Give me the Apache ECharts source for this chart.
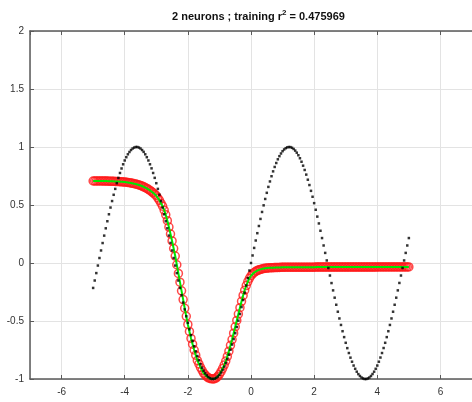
<!DOCTYPE html>
<html>
<head>
<meta charset="utf-8">
<script src="https://cdn.jsdelivr.net/npm/echarts@6/dist/echarts.min.js"></script>
<style>
  html, body { margin: 0; padding: 0; background: #fff; }
  #app { width: 472px; height: 402px; }
</style>
</head>
<body>
<div id="app"></div>
<script>
// training inputs
const xValues = [
  -5.00, -4.95, -4.90, -4.85, -4.80, -4.75, -4.70, -4.65, -4.60, -4.55,
  -4.50, -4.45, -4.40, -4.35, -4.30, -4.25, -4.20, -4.15, -4.10, -4.05,
  -4.00, -3.95, -3.90, -3.85, -3.80, -3.75, -3.70, -3.65, -3.60, -3.55,
  -3.50, -3.45, -3.40, -3.35, -3.30, -3.25, -3.20, -3.15, -3.10, -3.05,
  -3.00, -2.95, -2.90, -2.85, -2.80, -2.75, -2.70, -2.65, -2.60, -2.55,
  -2.50, -2.45, -2.40, -2.35, -2.30, -2.25, -2.20, -2.15, -2.10, -2.05,
  -2.00, -1.95, -1.90, -1.85, -1.80, -1.75, -1.70, -1.65, -1.60, -1.55,
  -1.50, -1.45, -1.40, -1.35, -1.30, -1.25, -1.20, -1.15, -1.10, -1.05,
  -1.00, -0.95, -0.90, -0.85, -0.80, -0.75, -0.70, -0.65, -0.60, -0.55,
  -0.50, -0.45, -0.40, -0.35, -0.30, -0.25, -0.20, -0.15, -0.10, -0.05,
  0.00, 0.05, 0.10, 0.15, 0.20, 0.25, 0.30, 0.35, 0.40, 0.45,
  0.50, 0.55, 0.60, 0.65, 0.70, 0.75, 0.80, 0.85, 0.90, 0.95,
  1.00, 1.05, 1.10, 1.15, 1.20, 1.25, 1.30, 1.35, 1.40, 1.45,
  1.50, 1.55, 1.60, 1.65, 1.70, 1.75, 1.80, 1.85, 1.90, 1.95,
  2.00, 2.05, 2.10, 2.15, 2.20, 2.25, 2.30, 2.35, 2.40, 2.45,
  2.50, 2.55, 2.60, 2.65, 2.70, 2.75, 2.80, 2.85, 2.90, 2.95,
  3.00, 3.05, 3.10, 3.15, 3.20, 3.25, 3.30, 3.35, 3.40, 3.45,
  3.50, 3.55, 3.60, 3.65, 3.70, 3.75, 3.80, 3.85, 3.90, 3.95,
  4.00, 4.05, 4.10, 4.15, 4.20, 4.25, 4.30, 4.35, 4.40, 4.45,
  4.50, 4.55, 4.60, 4.65, 4.70, 4.75, 4.80, 4.85, 4.90, 4.95,
  5.00
];

// training targets (black dots)
const targetValues = [
  -0.215, -0.151, -0.087, -0.022, 0.043, 0.108, 0.172, 0.236, 0.299, 0.360,
  0.420, 0.478, 0.534, 0.588, 0.639, 0.688, 0.733, 0.776, 0.815, 0.851,
  0.884, 0.912, 0.937, 0.957, 0.974, 0.987, 0.995, 1.000, 1.000, 0.995,
  0.987, 0.974, 0.958, 0.937, 0.912, 0.884, 0.851, 0.816, 0.776, 0.734,
  0.688, 0.639, 0.588, 0.534, 0.478, 0.420, 0.360, 0.299, 0.236, 0.173,
  0.108, 0.043, -0.022, -0.087, -0.151, -0.215, -0.278, -0.341, -0.400, -0.459,
  -0.516, -0.571, -0.622, -0.672, -0.718, -0.762, -0.802, -0.839, -0.873, -0.903,
  -0.929, -0.951, -0.969, -0.983, -0.993, -0.999, -1.000, -0.997, -0.990, -0.979,
  -0.964, -0.944, -0.921, -0.894, -0.862, -0.828, -0.790, -0.748, -0.703, -0.656,
  -0.605, -0.552, -0.497, -0.440, -0.380, -0.319, -0.257, -0.194, -0.130, -0.065,
  0.000, 0.065, 0.130, 0.194, 0.257, 0.319, 0.380, 0.440, 0.497, 0.552,
  0.605, 0.656, 0.703, 0.748, 0.790, 0.828, 0.862, 0.894, 0.921, 0.944,
  0.964, 0.979, 0.990, 0.997, 1.000, 0.999, 0.993, 0.983, 0.969, 0.951,
  0.929, 0.903, 0.873, 0.839, 0.802, 0.762, 0.718, 0.672, 0.622, 0.571,
  0.516, 0.459, 0.400, 0.341, 0.278, 0.215, 0.151, 0.087, 0.022, -0.043,
  -0.108, -0.173, -0.236, -0.299, -0.360, -0.420, -0.478, -0.534, -0.588, -0.639,
  -0.688, -0.734, -0.776, -0.816, -0.851, -0.884, -0.912, -0.937, -0.958, -0.974,
  -0.987, -0.995, -1.000, -1.000, -0.995, -0.987, -0.974, -0.957, -0.937, -0.912,
  -0.884, -0.851, -0.815, -0.776, -0.733, -0.688, -0.639, -0.588, -0.534, -0.478,
  -0.420, -0.360, -0.299, -0.236, -0.172, -0.108, -0.043, 0.022, 0.087, 0.151,
  0.215
];

// network output (red circles + green)
const fitValues = [
  0.707, 0.707, 0.707, 0.707, 0.707, 0.707, 0.707, 0.706, 0.706, 0.706,
  0.705, 0.705, 0.704, 0.704, 0.703, 0.702, 0.702, 0.701, 0.700, 0.699,
  0.698, 0.696, 0.694, 0.692, 0.690, 0.687, 0.684, 0.681, 0.677, 0.673,
  0.668, 0.663, 0.657, 0.650, 0.643, 0.635, 0.626, 0.616, 0.605, 0.593,
  0.580, 0.560, 0.540, 0.515, 0.490, 0.455, 0.415, 0.365, 0.310, 0.250,
  0.190, 0.125, 0.060, -0.015, -0.090, -0.165, -0.240, -0.315, -0.390, -0.460,
  -0.530, -0.590, -0.650, -0.700, -0.750, -0.795, -0.840, -0.870, -0.900, -0.925,
  -0.950, -0.965, -0.980, -0.990, -0.995, -0.998, -1.000, -0.997, -0.990, -0.977,
  -0.960, -0.937, -0.910, -0.880, -0.845, -0.805, -0.760, -0.710, -0.660, -0.605,
  -0.550, -0.495, -0.440, -0.385, -0.330, -0.280, -0.235, -0.195, -0.160, -0.132,
  -0.110, -0.094, -0.082, -0.072, -0.065, -0.059, -0.055, -0.051, -0.048, -0.046,
  -0.044, -0.043, -0.042, -0.041, -0.040, -0.039, -0.039, -0.038, -0.038, -0.037,
  -0.037, -0.036, -0.036, -0.036, -0.036, -0.036, -0.036, -0.036, -0.036, -0.036,
  -0.036, -0.036, -0.036, -0.036, -0.036, -0.036, -0.036, -0.036, -0.036, -0.036,
  -0.036, -0.035, -0.035, -0.035, -0.035, -0.035, -0.035, -0.035, -0.035, -0.035,
  -0.035, -0.035, -0.035, -0.035, -0.035, -0.035, -0.035, -0.035, -0.035, -0.035,
  -0.035, -0.035, -0.035, -0.035, -0.035, -0.035, -0.035, -0.035, -0.035, -0.035,
  -0.035, -0.035, -0.035, -0.035, -0.035, -0.035, -0.035, -0.035, -0.035, -0.035,
  -0.034, -0.034, -0.034, -0.034, -0.034, -0.034, -0.034, -0.034, -0.034, -0.034,
  -0.034, -0.034, -0.034, -0.034, -0.034, -0.034, -0.034, -0.034, -0.034, -0.034,
  -0.034
];

const targetData = xValues.map((x, i) => [x, targetValues[i]]);
const fitData = xValues.map((x, i) => [x, fitValues[i]]);

const axisColor = '#5a5a5a';
const font = 'Liberation Sans, Arial, sans-serif';

const chart = echarts.init(document.getElementById('app'));

const option = {
  animation: false,
  backgroundColor: '#fff',
  title: {
    text: '2 neurons ; training r{sup|2} = 0.475969',
    left: 167,
    top: 4,
    textStyle: {
      fontFamily: font,
      fontSize: 11,
      fontWeight: 'bold',
      color: '#111',
      lineHeight: 16,
      rich: {
        sup: {
          fontFamily: font,
          fontSize: 8,
          fontWeight: 'bold',
          color: '#111',
          verticalAlign: 'top',
          lineHeight: 10,
        },
      },
    },
  },
  grid: {
    left: 30,
    top: 31,
    width: 444,
    bottom: 23,
  },
  xAxis: [
    {
      type: 'value',
      min: -7,
      max: 7,
      splitNumber: 7,
      axisLine: { onZero: false, lineStyle: { color: axisColor, width: 1.5 } },
      axisTick: { inside: true, length: 4, lineStyle: { color: axisColor } },
      axisLabel: {
        showMinLabel: false,
        showMaxLabel: false,
        color: '#333',
        fontFamily: font,
        fontSize: 10,
        margin: 8,
      },
      splitLine: { lineStyle: { color: '#e3e3e3', width: 1 } },
    },
    {
      type: 'value',
      position: 'top',
      min: -7,
      max: 7,
      splitNumber: 7,
      axisLine: { onZero: false, lineStyle: { color: axisColor, width: 1.5 } },
      axisTick: { inside: true, length: 4, lineStyle: { color: axisColor } },
      axisLabel: { show: false },
      splitLine: { show: false },
    },
  ],
  yAxis: {
    type: 'value',
    min: -1,
    max: 2,
    interval: 0.5,
    axisLine: { show: true, onZero: false, lineStyle: { color: axisColor, width: 1.5 } },
    axisTick: { show: true, inside: true, length: 4, lineStyle: { color: axisColor } },
    axisLabel: {
      color: '#333',
      fontFamily: font,
      fontSize: 10,
      margin: 6,
    },
    splitLine: { lineStyle: { color: '#e3e3e3', width: 1 } },
  },
  series: [
    {
      name: 'prediction',
      type: 'scatter',
      data: fitData,
      symbol: 'circle',
      symbolSize: 8,
      itemStyle: {
        color: 'rgba(0,0,0,0)',
        borderColor: '#ff1a1a',
        borderWidth: 1.5,
      },
      z: 2,
    },
    {
      name: 'prediction line',
      type: 'line',
      data: fitData,
      showSymbol: false,
      lineStyle: { color: '#00e600', width: 2 },
      z: 3,
    },
    {
      name: 'target',
      type: 'scatter',
      data: targetData,
      symbol: 'rect',
      symbolSize: 2.5,
      itemStyle: { color: '#000' },
      z: 4,
    },
  ],
};

chart.setOption(option);
</script>
</body>
</html>
